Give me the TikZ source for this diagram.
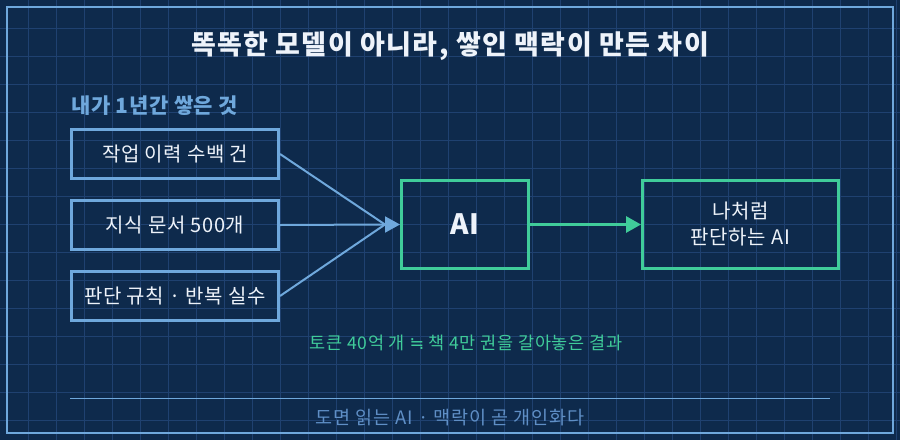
\documentclass[tikz,border=0pt]{standalone}
\usepackage{fontspec}
\setmainfont{Noto Sans CJK KR}
\newfontfamily\symfont{DejaVu Sans}
\usepackage{xcolor}
\usepackage{tikz}
\usetikzlibrary{arrows.meta,positioning}

\definecolor{bgblue}{HTML}{0E2A4C}
\definecolor{gridblue}{HTML}{1F4170}
\definecolor{lineblue}{HTML}{6FA8DC}
\definecolor{footblue}{HTML}{5F8FC6}
\definecolor{mint}{HTML}{40CC9A}
\definecolor{paper}{HTML}{EEF3FA}

\begin{document}
\begin{tikzpicture}[
    x=1pt, y=-1pt,
    gridline/.style={draw=gridblue, line width=1pt},
    srcbox/.style={draw=lineblue, line width=3pt, minimum width=207pt, minimum height=49pt, inner sep=0pt, text=paper, font=\fontsize{20}{24}\selectfont\addfontfeatures{LetterSpace=3}},
    aibox/.style={draw=mint, line width=3pt, minimum width=127pt, minimum height=88pt, inner sep=0pt, text=paper, align=center},
    feed/.style={draw=lineblue, line width=2pt},
    arrow/.style={-{Triangle[length=15pt,width=16pt]}, line width=3pt},
    node distance=19pt
]
\useasboundingbox (0,0) rectangle (900,440);
\fill[bgblue] (0,0) rectangle (900,440);
\foreach \gx in {28,56,...,896} \draw[gridline] (\gx,0) -- (\gx,440);
\foreach \gy in {28,56,...,420} \draw[gridline] (0,\gy) -- (900,\gy);
\draw[lineblue, line width=2pt] (7,7) rectangle (893,433);

% title and heading
\node[text=paper, font=\fontsize{27}{32}\selectfont\bfseries\addfontfeatures{LetterSpace=5}] (title) at (450,46) {똑똑한 모델이 아니라, 쌓인 맥락이 만든 차이};
\node[anchor=west, inner sep=0pt, text=lineblue, font=\fontsize{21}{25}\selectfont\bfseries\addfontfeatures{LetterSpace=3}] (head) at (71,106) {내가 1년간 쌓은 것};

% sources
\node[srcbox] (work) at (175,154) {작업 이력 수백 건};
\node[srcbox, below=of work] (docs) {지식 문서 500개};
\node[srcbox, below=of docs] (rules) {판단 규칙 · 반복 실수};

\node[aibox, font=\fontsize{28}{32}\selectfont\bfseries] (ai) at (465,224.5) {AI};
\node[aibox, minimum width=196pt, right=111pt of ai, font=\fontsize{20}{26}\selectfont\addfontfeatures{LetterSpace=3}] (me) {나처럼\\판단하는 AI};

\coordinate (join) at ([xshift=-15pt]ai.west);
\draw[feed] (work.east) -- (join);
\draw[feed] (docs.east) -- (join);
\draw[feed] (rules.east) -- (join);
\draw[arrow, draw=lineblue, line width=2pt, -{Triangle[length=15pt,width=16pt,fill=lineblue]}] (join) -- (ai.west);
\draw[arrow, draw=mint] (ai) -- (me);

\node[text=mint, font=\fontsize{17.5}{21}\selectfont\addfontfeatures{LetterSpace=4}] (note) at (466,343) {토큰 40억 개 {\symfont ≒} 책 4만 권을 갈아놓은 결과};

% footer
\draw[lineblue, line width=1pt] (70,398) -- (830,398);
\node[text=footblue, font=\fontsize{18.5}{22}\selectfont\addfontfeatures{LetterSpace=5}] (foot) at (450,418) {도면 읽는 AI · 맥락이 곧 개인화다};
\end{tikzpicture}
\end{document}
